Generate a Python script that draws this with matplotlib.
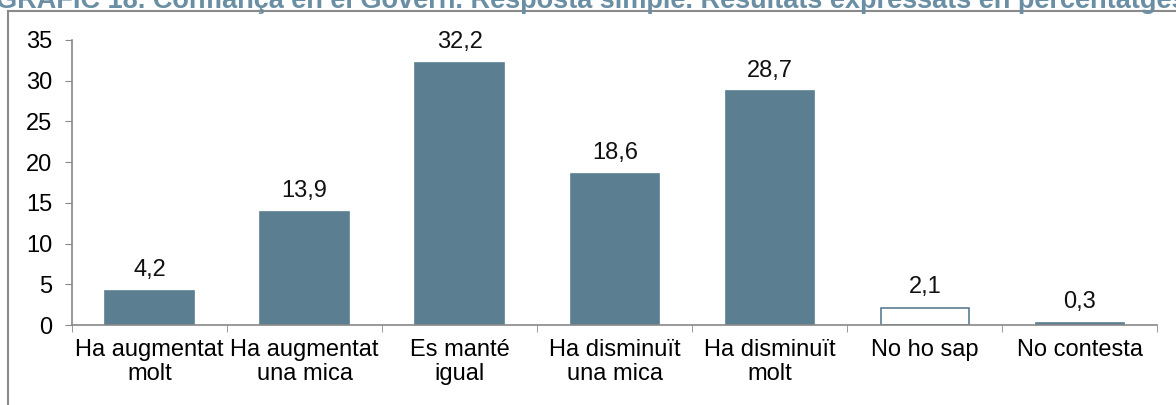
import matplotlib.pyplot as plt
from matplotlib.patches import Rectangle

categories = ["Ha augmentat\nmolt", "Ha augmentat\nuna mica", "Es manté\nigual",
              "Ha disminuït\nuna mica", "Ha disminuït\nmolt", "No ho sap", "No contesta"]
values = [4.2, 13.9, 32.2, 18.6, 28.7, 2.1, 0.3]
labels = ["4,2", "13,9", "32,2", "18,6", "28,7", "2,1", "0,3"]
title = "GRÀFIC 18. Confiança en el Govern. Resposta simple. Resultats expressats en percentatges"

plt.rcParams['font.family'] = ['Liberation Sans', 'DejaVu Sans']
bar_color = "#5b7e91"
fs = 17

fig = plt.figure(figsize=(11.76, 4.05), dpi=100)
ax = fig.add_axes([72 / 1176, 1 - 325 / 405, (1157.5 - 72) / 1176, 285 / 405])

x = list(range(len(values)))
faces = [bar_color] * len(values)
faces[5] = "white"
bars = ax.bar(x, values, width=0.57, color=faces, edgecolor=bar_color, linewidth=1.2)

for xi, v, lab in zip(x, values, labels):
    ax.text(xi, v + 1.2, lab, ha="center", va="bottom", fontsize=fs, color="#111111")

ax.set_xlim(-0.5, len(values) - 0.5)
ax.set_ylim(0, 35)
ax.set_yticks(range(0, 36, 5))
ax.set_yticklabels([str(t) for t in range(0, 36, 5)], fontsize=fs)

ax.set_xticks(x)
ax.set_xticklabels(categories, fontsize=fs, linespacing=1.15)
ax.tick_params(axis="x", length=0, pad=10)
ax.set_xticks([i - 0.5 for i in range(len(values) + 1)], minor=True)
ax.tick_params(axis="x", which="minor", length=5, color="#888888")
ax.tick_params(axis="y", length=5, color="#888888", pad=9)

for s in ["top", "right"]:
    ax.spines[s].set_visible(False)
for s in ["left", "bottom"]:
    ax.spines[s].set_color("#888888")
    ax.spines[s].set_linewidth(1.2)

# outer frame
fig.patches.append(Rectangle((8 / 1176, -0.1), 1.2, 1 - 11 / 405 + 0.1,
                             transform=fig.transFigure, fill=False,
                             edgecolor="#8a8a8a", linewidth=1.5))
fig.text(-0.003, 1 - 8.5 / 405, title, fontsize=19.5, fontweight="bold",
         color="#6a8ea3", ha="left", va="baseline")

fig.savefig("out.png", dpi=100)
